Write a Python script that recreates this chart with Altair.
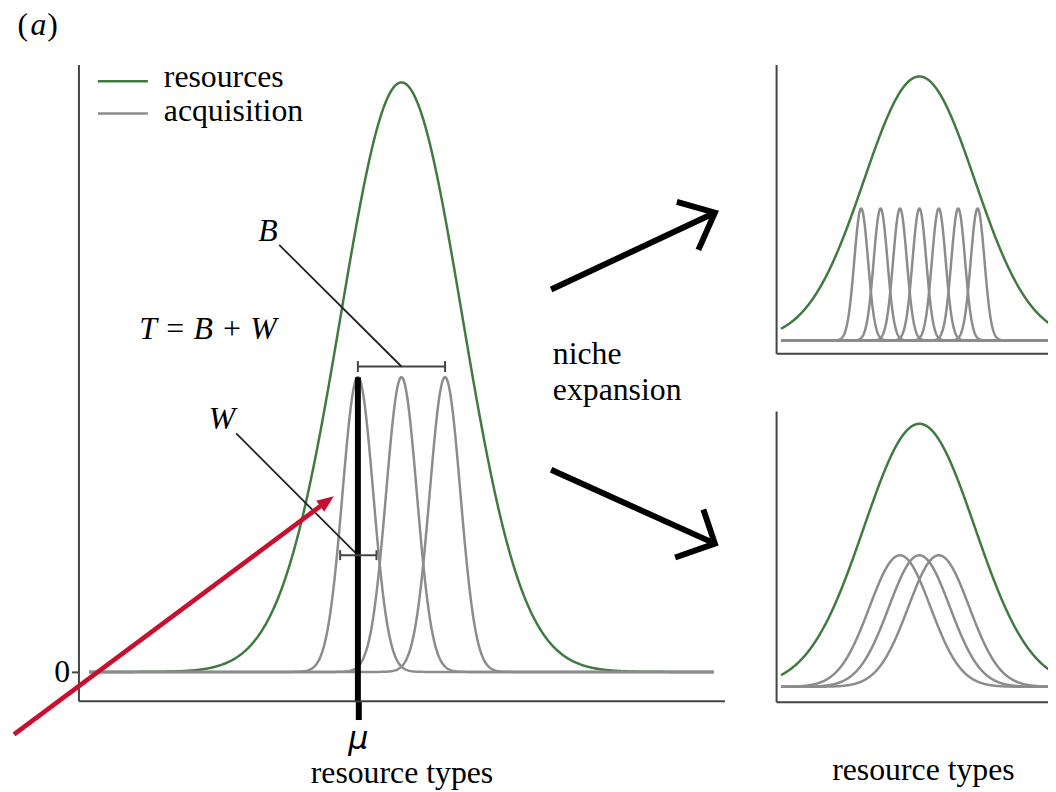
import altair as alt
import pandas as pd

# ---------------- data ----------------
# curve parameters (resource-type units; heights relative to resource peak)
main_series = ["resources", "acquisition", "acquisition", "acquisition"]
main_centers = [0.0, -0.72, 0.0, 0.72]
main_sigmas = [1.0, 0.254, 0.254, 0.254]
main_peaks = [1.0, 0.5, 0.5, 0.5]
main_span = [-5.156, 5.156]

top_series = ["resources"] + ["acquisition"] * 7
top_centers = [0.0, -1.05, -0.70, -0.35, 0.0, 0.35, 0.70, 1.05]
top_sigmas = [1.0] + [0.124] * 7
top_peaks = [1.0] + [0.5] * 7

bot_series = ["resources", "acquisition", "acquisition", "acquisition"]
bot_centers = [0.0, -0.35, 0.0, 0.35]
bot_sigmas = [1.0, 0.55, 0.55, 0.55]
bot_peaks = [1.0, 0.5, 0.5, 0.5]
small_span = [-2.496, 2.496]

mu = -0.72

# legend (drawn inside the main panel, main-panel units)
legend_series = ["resources", "acquisition"]
legend_line_x = [-5.016, -5.016]
legend_line_x2 = [-4.189, -4.189]
legend_line_y = [1.0022, 0.9473]
legend_text_x = [-3.926, -3.926]
legend_text_y = [0.9916, 0.9343]

# annotation geometry (main-panel units)
bracket_x = [-0.72, -1.013]
bracket_x2 = [0.72, -0.413]
bracket_y = [0.5181, 0.198]
bracket_tick = [0.0093, 0.0084]

leader_x = [-2.02, -2.73]
leader_y = [0.7244, 0.4045]
leader_x2 = [0.0, -0.751]
leader_y2 = [0.5181, 0.201]

arrow_path = ["top shaft", "top shaft", "top head", "top head", "top head",
              "bottom shaft", "bottom shaft", "bottom head", "bottom head", "bottom head"]
arrow_order = [0, 1, 0, 1, 2, 0, 1, 0, 1, 2]
arrow_x = [2.472, 5.133, 4.549, 5.177, 4.905, 2.472, 5.133, 4.521, 5.177, 4.987]
arrow_y = [0.6487, 0.7769, 0.7975, 0.7790, 0.7160, 0.3429, 0.2197, 0.1941, 0.2177, 0.2756]

red_x = [-6.40]
red_y = [-0.1060]
red_x2 = [-1.313]
red_y2 = [0.2832]
red_head_x = [-1.2577]
red_head_y = [0.2874]

italic_texts = ["T = B + W", "B", "W", "a"]
italic_x = [-3.197, -2.205, -2.967, -5.997]
italic_y = [0.564, 0.7306, 0.4113, 1.0813]

roman_texts = ["(", ")"]
roman_x = [-6.257, -5.766]
roman_y = [1.0813, 1.0813]

niche_texts = ["niche", "expansion"]
niche_x = [2.5, 2.5]
niche_y = [0.5224, 0.4613]

# ---------------- styling ----------------
GREEN = "#3f7a3f"
GRAY = "#8c8c8c"
AXIS = "#444444"
SERIF = "Liberation Serif, Times New Roman, DejaVu Serif, serif"

color_scale = alt.Scale(domain=["resources", "acquisition"], range=[GREEN, GRAY])


def params(series, centers, sigmas, peaks, span, step):
    return pd.DataFrame({
        "id": list(range(len(series))),
        "series": series,
        "center": centers,
        "sigma": sigmas,
        "peak": peaks,
        "lo": span[0],
        "hi": span[1],
        "step": step,
    })


def curve_base(df):
    return (
        alt.Chart(df)
        .transform_calculate(xs="sequence(datum.lo, datum.hi + datum.step / 2, datum.step)")
        .transform_flatten(["xs"])
        .transform_calculate(
            yv="datum.peak * exp(-pow(datum.xs - datum.center, 2) / (2 * datum.sigma * datum.sigma))"
        )
    )


# ---------------- main panel ----------------
mx = alt.Scale(domain=[-5.336, 5.336], nice=False, zero=False)
my = alt.Scale(domain=[-0.0488, 1.0303], nice=False, zero=False)

main_x_axis = alt.Axis(
    values=[mu], labelExpr="'μ'", grid=False,
    tickSize=19, tickWidth=6, tickColor="black",
    labelFont="DejaVu Sans", labelFontSize=32, labelFontStyle="italic", labelColor="black",
    labelBaseline="alphabetic", labelPadding=29, labelFlush=False,
    domainColor=AXIS, domainWidth=2,
    title="resource types", titleFont=SERIF, titleFontSize=32, titleFontWeight="normal",
    titleColor="black", titleBaseline="alphabetic", titleY=82,
)
main_y_axis = alt.Axis(
    values=[0], title=None, grid=False, tickSize=7, tickWidth=2, tickColor=AXIS,
    labelFont=SERIF, labelFontSize=32, labelColor="black", labelPadding=2,
    domainColor=AXIS, domainWidth=2,
)


def MX(field):
    return alt.X(field, scale=mx, axis=main_x_axis)


def MY(field):
    return alt.Y(field, scale=my, axis=main_y_axis)


def SERIES():
    return alt.Color("series:N", scale=color_scale, legend=None)


mdf = params(main_series, main_centers, main_sigmas, main_peaks, main_span, 0.01)
mbase = curve_base(mdf)
main_green = mbase.transform_filter("datum.series == 'resources'").mark_line(strokeWidth=2.5).encode(
    x=MX("xs:Q"), y=MY("yv:Q"), color=SERIES(), detail="id:N",
)
main_gray = mbase.transform_filter("datum.series == 'acquisition'").mark_line(strokeWidth=2.5).encode(
    x=MX("xs:Q"), y=MY("yv:Q"), color=SERIES(), detail="id:N",
)

lg = pd.DataFrame({
    "series": legend_series, "x": legend_line_x, "x2": legend_line_x2, "y": legend_line_y,
    "tx": legend_text_x, "ty": legend_text_y,
})
legend_lines = alt.Chart(lg).mark_rule(strokeWidth=2.5).encode(
    x=MX("x:Q"), x2="x2:Q", y=MY("y:Q"), color=SERIES(),
)
legend_labels = alt.Chart(lg).mark_text(
    font=SERIF, fontSize=32, color="black", align="left", baseline="alphabetic"
).encode(x=MX("tx:Q"), y=MY("ty:Q"), text="series:N")

mu_df = pd.DataFrame({"x": [mu], "y": [0.5], "y2": [-0.0488]})
mu_line = alt.Chart(mu_df).mark_rule(color="black", strokeWidth=6).encode(
    x=MX("x:Q"), y=MY("y:Q"), y2="y2:Q"
)

br = pd.DataFrame({"x": bracket_x, "x2": bracket_x2, "y": bracket_y})
br_h = alt.Chart(br).mark_rule(color=AXIS, strokeWidth=2).encode(
    x=MX("x:Q"), x2="x2:Q", y=MY("y:Q")
)
br_ends = pd.DataFrame({
    "x": bracket_x + bracket_x2,
    "ylo": [y - t for y, t in zip(bracket_y, bracket_tick)] * 2,
    "yhi": [y + t for y, t in zip(bracket_y, bracket_tick)] * 2,
})
br_t = alt.Chart(br_ends).mark_rule(color=AXIS, strokeWidth=2).encode(
    x=MX("x:Q"), y=MY("ylo:Q"), y2="yhi:Q"
)

ld = pd.DataFrame({"x": leader_x, "y": leader_y, "x2": leader_x2, "y2": leader_y2})
leaders = alt.Chart(ld).mark_rule(color="#222222", strokeWidth=1.8).encode(
    x=MX("x:Q"), x2="x2:Q", y=MY("y:Q"), y2="y2:Q",
)

ar = pd.DataFrame({"path": arrow_path, "o": arrow_order, "x": arrow_x, "y": arrow_y})
arrows = alt.Chart(ar).mark_line(color="black", strokeWidth=6, strokeJoin="miter", strokeCap="butt").encode(
    x=MX("x:Q"), y=MY("y:Q"), detail="path:N", order="o:Q",
)

rd = pd.DataFrame({"x": red_x, "y": red_y, "x2": red_x2, "y2": red_y2})
red_shaft = alt.Chart(rd).mark_rule(color="#c8102e", strokeWidth=4.7).encode(
    x=MX("x:Q"), x2="x2:Q", y=MY("y:Q"), y2="y2:Q",
)
rh = pd.DataFrame({"x": red_head_x, "y": red_head_y})
red_head = alt.Chart(rh).mark_point(
    shape="M0,-1L0.65,0.6L-0.65,0.6Z", size=450, angle=53.5, filled=True,
    color="#c8102e", opacity=1, strokeWidth=0,
).encode(x=MX("x:Q"), y=MY("y:Q"))

it = pd.DataFrame({"t": italic_texts, "x": italic_x, "y": italic_y})
it_text = alt.Chart(it).mark_text(
    font=SERIF, fontSize=32, fontStyle="italic", color="black", align="center", baseline="alphabetic"
).encode(x=MX("x:Q"), y=MY("y:Q"), text="t:N")

rm = pd.DataFrame({"t": roman_texts, "x": roman_x, "y": roman_y})
rm_text = alt.Chart(rm).mark_text(
    font=SERIF, fontSize=32, color="black", align="center", baseline="alphabetic"
).encode(x=MX("x:Q"), y=MY("y:Q"), text="t:N")

nt = pd.DataFrame({"t": niche_texts, "x": niche_x, "y": niche_y})
n_text = alt.Chart(nt).mark_text(
    font=SERIF, fontSize=32, color="black", align="left", baseline="alphabetic"
).encode(x=MX("x:Q"), y=MY("y:Q"), text="t:N")

main = alt.layer(
    main_green, main_gray, legend_lines, legend_labels, mu_line, br_h, br_t, leaders, arrows,
    it_text, rm_text, n_text, red_shaft, red_head,
).properties(width=651, height=641)

# ---------------- small panels ----------------
sx = alt.Scale(domain=[-2.584, 2.319], nice=False, zero=False)
plain_axis = alt.Axis(ticks=False, labels=False, title=None, grid=False, domainColor=AXIS, domainWidth=2)
bot_x_axis = alt.Axis(
    ticks=False, labels=False, grid=False, domainColor=AXIS, domainWidth=2,
    title="resource types", titleFont=SERIF, titleFontSize=32, titleFontWeight="normal",
    titleColor="black", titleBaseline="alphabetic", titleY=78, titleX=148, titleAlign="center",
)


def small_panel(series, centers, sigmas, peaks, ydom, height, xaxis):
    df = params(series, centers, sigmas, peaks, small_span, 0.005)
    base = curve_base(df)
    ys = alt.Scale(domain=ydom, nice=False, zero=False)
    g = base.transform_filter("datum.series == 'resources'").mark_line(
        strokeWidth=2.5, clip=True, color=GREEN
    ).encode(
        x=alt.X("xs:Q", scale=sx, axis=xaxis),
        y=alt.Y("yv:Q", scale=ys, axis=plain_axis),
        detail="id:N",
    )
    a = base.transform_filter("datum.series == 'acquisition'").mark_line(
        strokeWidth=2.5, clip=True, color=GRAY
    ).encode(
        x=alt.X("xs:Q", scale=sx, axis=xaxis),
        y=alt.Y("yv:Q", scale=ys, axis=plain_axis),
        detail="id:N",
    )
    return alt.layer(g, a).properties(width=274, height=height)


top = small_panel(top_series, top_centers, top_sigmas, top_peaks, [-0.0489, 1.045], 291, plain_axis)
bot = small_panel(bot_series, bot_centers, bot_sigmas, bot_peaks, [-0.0566, 1.049], 293, bot_x_axis)

right = alt.vconcat(top, bot, spacing=58, bounds="flush")

chart = (
    alt.hconcat(main, right, spacing=52, bounds="flush")
    .resolve_scale(color="independent")
    .configure_view(stroke=None)
    .properties(padding={"left": 3, "top": -3, "right": 0, "bottom": 0}, background="white")
)

chart.save("out.html", embed_options={"renderer": "svg", "actions": False})
